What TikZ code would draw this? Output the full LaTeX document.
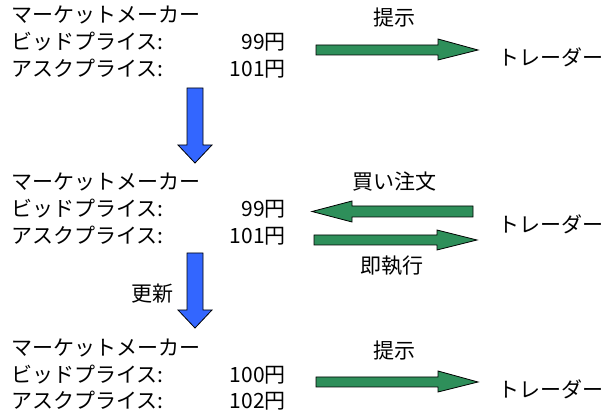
\documentclass[tikz,border=0pt]{standalone}
\usepackage{fontspec}
\setmainfont{Noto Sans CJK JP}
\begin{document}
\begin{tikzpicture}[x=1pt,y=-1pt,
  txt/.style={inner sep=0pt,font=\fontsize{21}{24}\selectfont},
  lt/.style={txt,anchor=base west},
  rt/.style={txt,anchor=base east},
  ct/.style={txt,anchor=center},
  garrow/.style={draw=black,line width=0.8pt,fill=gfill},
  barrow/.style={draw=black,line width=0.8pt,fill=bfill}]
\definecolor{gfill}{RGB}{46,143,90}
\definecolor{bfill}{RGB}{51,102,255}
\useasboundingbox (0,0) rectangle (605,419);
% row 1
\node[lt] (m1) at (11,23) {マーケットメーカー};
\node[lt] (b1) at (11,50) {ビッドプライス:};
\node[rt] (bp1) at (286,50) {99円};
\node[lt] (a1) at (11,77) {アスクプライス:};
\node[rt] (ap1) at (286,77) {101円};
\node[ct] (s1) at (394,18) {提示};
\node[ct] (t1) at (551,57) {トレーダー};
\draw[garrow] (316,45) -- (438,45) -- (438,39) -- (478,50) -- (438,60) -- (438,55) -- (316,55) -- cycle;
% blue arrow 1
\draw[barrow] (187,88) -- (203,88) -- (203,145) -- (212,145) -- (195,163) -- (178,145) -- (187,145) -- cycle;
% row 2
\node[lt] (m2) at (11,190) {マーケットメーカー};
\node[lt] (b2) at (11,217) {ビッドプライス:};
\node[rt] (bp2) at (286,217) {99円};
\node[lt] (a2) at (11,244) {アスクプライス:};
\node[rt] (ap2) at (286,244) {101円};
\node[ct] (o2) at (394,182) {買い注文};
\node[ct] (e2) at (392,266) {即執行};
\node[ct] (t2) at (551,224) {トレーダー};
\draw[garrow] (473,206) -- (352,206) -- (352,201) -- (312,211.5) -- (352,222) -- (352,217) -- (473,217) -- cycle;
\draw[garrow] (314,235) -- (437,235) -- (437,230) -- (477,240) -- (437,250) -- (437,245) -- (314,245) -- cycle;
% blue arrow 2
\node[ct] (u2) at (152,294) {更新};
\draw[barrow] (187,253) -- (203,253) -- (203,310) -- (212,310) -- (195,328) -- (178,310) -- (187,310) -- cycle;
% row 3
\node[lt] (m3) at (11,356) {マーケットメーカー};
\node[lt] (b3) at (11,383) {ビッドプライス:};
\node[rt] (bp3) at (286,383) {100円};
\node[lt] (a3) at (11,409) {アスクプライス:};
\node[rt] (ap3) at (286,409) {102円};
\node[ct] (s3) at (394,351) {提示};
\node[ct] (t3) at (551,389) {トレーダー};
\draw[garrow] (316,377) -- (438,377) -- (438,371) -- (478,382) -- (438,392) -- (438,387) -- (316,387) -- cycle;
\end{tikzpicture}
\end{document}
